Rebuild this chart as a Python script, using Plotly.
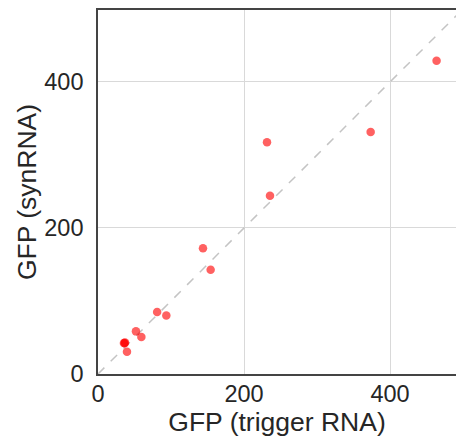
import plotly.graph_objects as go

trigger_gfp = [463.8, 373.5, 231.5, 235.6, 143.8, 154.3, 81.0, 93.6, 52.0, 59.4, 35.5, 37.0, 36.5, 39.7]
synrna_gfp = [429.2, 331.5, 317.4, 244.3, 172.2, 142.9, 85.0, 80.0, 58.4, 50.7, 42.5, 43.0, 42.0, 30.6]
diag = [0, 500]
x_ticks = [0, 200, 400]
y_ticks = [0, 200, 400]

fig = go.Figure()
fig.add_trace(go.Scatter(x=diag, y=diag, mode="lines",
                         line=dict(color="#c4c4c4", width=1.5, dash="dash"),
                         hoverinfo="skip", showlegend=False))
fig.add_trace(go.Scatter(x=trigger_gfp, y=synrna_gfp, mode="markers",
                         marker=dict(color="rgba(255,0,0,0.62)", size=8.5, line=dict(width=0)),
                         showlegend=False))

font_fam = "Liberation Sans, Arial, sans-serif"
fig.update_layout(
    width=456, height=439,
    margin=dict(l=98, r=0, t=10, b=65),
    paper_bgcolor="white", plot_bgcolor="white",
    font=dict(family=font_fam, size=23.5, color="#262626"),
    xaxis=dict(range=[0, 490.4], tickvals=x_ticks, showgrid=True, gridcolor="#d9d9d9", gridwidth=1,
               zeroline=False, showline=True, linecolor="#444444", linewidth=1.6, mirror=True,
               ticks="", ticklabelstandoff=-2,
               title=dict(text="GFP (trigger RNA)", font=dict(size=26.5), standoff=2)),
    yaxis=dict(range=[0, 498.6], tickvals=y_ticks, showgrid=True, gridcolor="#d9d9d9", gridwidth=1,
               zeroline=False, showline=True, linecolor="#444444", linewidth=1.6, mirror=False,
               ticks="", ticklabelstandoff=8,
               title=dict(text="GFP (synRNA)", font=dict(size=26.5), standoff=0)),
)
fig.write_html("out.html")
